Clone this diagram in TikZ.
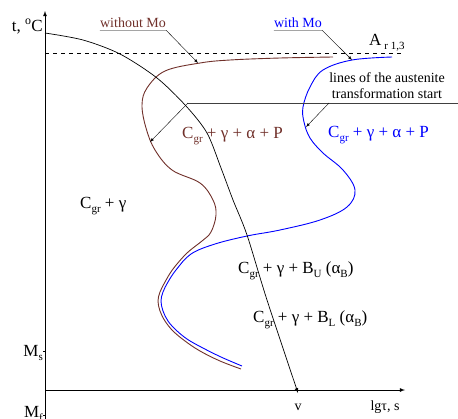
\documentclass[tikz,border=0pt]{standalone}
\usepackage{fontspec}
\setmainfont{Liberation Serif}
\usepackage{tikz}
\usetikzlibrary{arrows}
\definecolor{nomo}{RGB}{112,48,42}
\definecolor{withmo}{RGB}{0,0,255}
\newcommand{\lo}[1]{\raisebox{-0.55ex}{\fontsize{11}{11}\selectfont #1}}

\begin{document}
\begin{tikzpicture}[x=1pt,y=-1pt,>=latex,every node/.style={inner sep=0pt},
    big/.style={font=\fontsize{17}{20}\selectfont},
    small/.style={font=\fontsize{14}{16}\selectfont},
    curve/.style={line width=0.9pt}]
    \useasboundingbox (0,0) rectangle (458,418);
    \coordinate (o) at (45,390);
    \coordinate (ytop) at (45,11);
    \coordinate (ybot) at (45,420);
    \coordinate (xend) at (405,390);
    \draw[line width=0.8pt,->] (ybot) -- (ytop);
    \draw[line width=0.8pt,->] (o) -- (xend);
    \draw (43,351) -- (45,351);
    \draw (43,415) -- (45,415);
    \node[big,anchor=base east] (tax) at (43,31) {t, \textsuperscript{o}C};
    \node[big,anchor=base east] (ms) at (43,356) {M\lo{s}};
    \node[big,anchor=base east] (mf) at (43,417) {M\lo{f}};
    \node[small,anchor=base] (v) at (298,410) {v};
    \node[small,anchor=base] (lgt) at (385,410) {lgτ, s};

    % A_r1,3 level
    \coordinate (ar0) at (45,53);
    \coordinate (ar1) at (403,53);
    \draw[dash pattern=on 4pt off 4pt] (ar0) -- (ar1);
    \node[big,anchor=base west] (ar) at (369,45) {A\hspace{3pt}\lo{r 1,3}};

    % start curves
    \draw[curve,nomo] plot[smooth,tension=0.6] coordinates {(333,57) (280,58) (230,60) (200,63) (165,71) (147,88) (142,105) (146,128) (155,150) (172,170) (200,183) (213,200) (216,215) (211,232) (202,241) (187,253) (173,269) (165,282) (160,292) (158,301) (160,311) (165,321) (173,331) (185,341) (200,351) (220,361) (241,369)};
    \draw[curve,withmo] plot[smooth,tension=0.6] coordinates {(392,57) (352,60) (323,70) (310,87) (303,107) (304,122) (310,138) (323,153) (343,170) (355,190) (347,207) (320,220) (280,230) (247,236) (215,244) (191,254) (176,270) (168,282) (163,292) (161,301) (163,311) (168,321) (176,330) (187,339) (201,347) (221,357) (242,366)};

    % cooling curve
    \draw[line width=0.7pt,->] plot[smooth] coordinates {(45,33) (83,40) (120,54) (157,78) (186,106) (207,133) (221,168) (233,200) (247,235) (267,300) (298,393)};

    % labels of the curves
    \coordinate (nomotip) at (198,63);
    \coordinate (motip) at (352,60);
    \node[small,text=nomo,anchor=base,text depth=3pt] (without) at (133,27) {without Mo};
    \node[small,text=withmo,anchor=base,text depth=3pt] (with) at (298,27) {with Mo};
    \draw[->] (without.south west) -- (without.south east) -- (nomotip);
    \draw[->] (with.south west) -- (with.south east) -- (motip);

    \coordinate (ts0) at (188,103);
    \coordinate (ts1) at (329,103);
    \coordinate (ts2) at (458,103);
    \coordinate (nomohit) at (150,142);
    \coordinate (mohit) at (306,127);
    \draw[black!75,line width=0.8pt] (ts0) -- (ts2);
    \draw[->] (ts0) -- (nomohit);
    \draw[->] (ts1) -- (mohit);
    \node[small,align=center] (austen) at (387,86) {lines of the austenite\\transformation start};

    % phase fields
    \node[big,anchor=base west] (cg) at (80,208) {C\lo{gr} + γ};
    \node[big,anchor=base west,text=nomo] (cgnomo) at (182,138) {C\lo{gr} + γ + α + P};
    \node[big,anchor=base west,text=withmo] (cgmo) at (328,137) {C\lo{gr} + γ + α + P};
    \node[big,anchor=base west] (bu) at (238,273) {C\lo{gr} + γ + B\lo{U} (α\lo{B})};
    \node[big,anchor=base west] (bl) at (253,322) {C\lo{gr} + γ + B\lo{L} (α\lo{B})};
\end{tikzpicture}
\end{document}
